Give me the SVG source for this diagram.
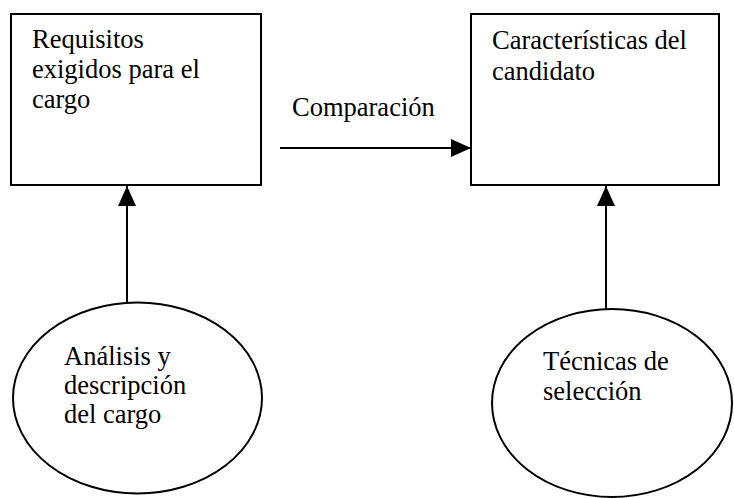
<svg xmlns="http://www.w3.org/2000/svg" width="734" height="498" viewBox="0 0 734 498">
<style>
.shape{fill:#fff;stroke:#000;stroke-width:2}
.t{font-size:26.5px;fill:#000}
.c{stroke:#000;stroke-width:2;fill:none}
</style>
<defs>
<marker id="ah" markerWidth="20" markerHeight="18" refX="20" refY="9" orient="auto" markerUnits="userSpaceOnUse">
<path d="M0,0 L20,9 L0,18 Z" fill="#000"/>
</marker>
</defs>
<rect width="734" height="498" fill="#fff"/>
<g id="box-requisitos">
<rect class="shape" x="11" y="14" width="250" height="171"/>
<g font-family="Liberation Serif, serif">
<text class="t" x="32" y="48">Requisitos</text>
<text class="t" x="32" y="78">exigidos para el</text>
<text class="t" x="32" y="108">cargo</text>
</g>
</g>
<g id="box-caracteristicas">
<rect class="shape" x="471" y="14" width="248" height="171"/>
<g font-family="Liberation Serif, serif">
<text class="t" x="492" y="49">Características del</text>
<text class="t" x="492" y="80">candidato</text>
</g>
</g>
<g id="ellipse-analisis">
<ellipse class="shape" cx="137.5" cy="398" rx="124.5" ry="95.5"/>
<g font-family="Liberation Serif, serif">
<text class="t" x="64" y="365">Análisis y</text>
<text class="t" x="64" y="394">descripción</text>
<text class="t" x="64" y="423">del cargo</text>
</g>
</g>
<g id="ellipse-tecnicas">
<ellipse class="shape" cx="612" cy="403" rx="120" ry="94"/>
<g font-family="Liberation Serif, serif">
<text class="t" x="543" y="370">Técnicas de</text>
<text class="t" x="543" y="400">selección</text>
</g>
</g>
<g id="connectors">
<line class="c" x1="280" y1="148" x2="471" y2="148" marker-end="url(#ah)"/>
<text class="t" x="292" y="116" font-family="Liberation Serif, serif">Comparación</text>
<line class="c" x1="127" y1="303" x2="127" y2="186" marker-end="url(#ah)"/>
<line class="c" x1="606" y1="309" x2="606" y2="186" marker-end="url(#ah)"/>
</g>
</svg>
